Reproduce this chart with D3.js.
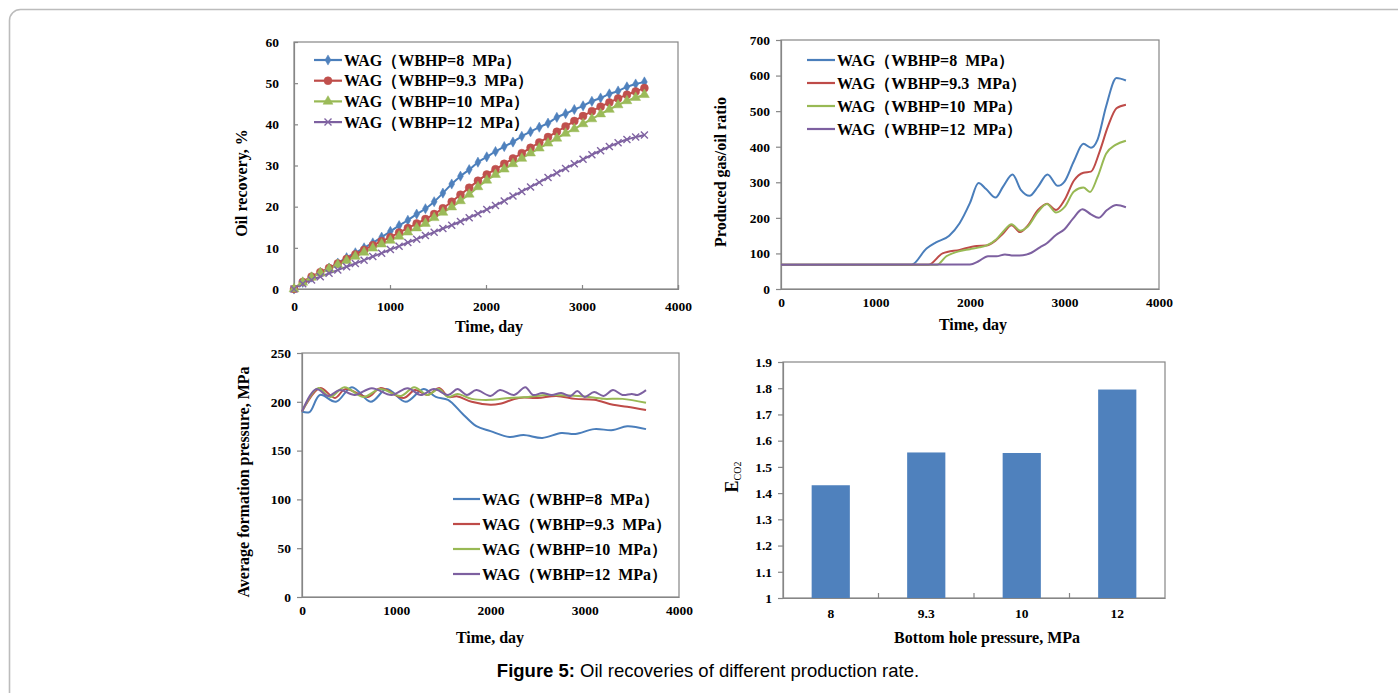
<!DOCTYPE html>
<html>
<head>
<meta charset="utf-8">
<script src="https://cdn.jsdelivr.net/npm/d3@7"></script>
<style>
html,body{margin:0;padding:0;background:#fff;}
svg{display:block;}
text{font-family:"Liberation Serif","Times New Roman",serif;font-weight:bold;fill:#000;}
</style>
</head>
<body>
<svg id="fig" width="1398" height="693"></svg>
<script>
// ---------------- DATA ----------------
const seriesNames = ["WAG（WBHP=8  MPa）","WAG（WBHP=9.3  MPa）","WAG（WBHP=10  MPa）","WAG（WBHP=12  MPa）"];
const lineColors = ["#4A7EBB","#BE4B48","#98B954","#7D60A0"];
const markColors = ["#4F81BD","#C0504D","#9BBB59","#8064A2"];

// Chart 1: oil recovery (%)
const recoveryDays = [0,91,183,274,365,456,548,639,730,821,913,1004,1095,1186,1278,1369,1460,1551,1643,1734,1825,1916,2008,2099,2190,2281,2373,2464,2555,2646,2738,2829,2920,3011,3103,3194,3285,3376,3468,3559,3650];
const recovery8  = [0,1.6,2.9,4.0,5.1,6.3,7.6,8.8,10.0,11.2,12.6,14.0,15.4,16.7,18.2,19.5,21.2,23.3,25.5,27.4,29.0,30.8,32.1,33.4,34.6,35.7,37.1,38.2,39.3,40.3,41.7,42.6,43.6,44.5,45.6,46.4,47.4,48.1,49.1,49.8,50.3];
const recovery93 = [0,1.7,3.0,4.1,5.1,6.2,7.3,8.4,9.5,10.6,11.6,12.6,13.7,14.8,15.9,17.0,18.2,19.6,21.2,22.9,24.6,26.3,27.8,29.1,30.4,31.7,33.0,34.3,35.6,36.9,38.2,39.5,40.8,42.0,43.2,44.3,45.3,46.3,47.2,48.0,48.8];
const recovery10 = [0,1.6,2.8,3.9,4.9,5.9,6.9,7.9,8.9,9.9,10.9,11.8,12.8,13.8,14.8,15.9,17.3,18.6,19.9,21.4,23.0,24.8,26.4,27.8,29.1,30.4,31.7,33.0,34.2,35.4,36.6,37.8,38.9,40.1,41.3,42.5,43.6,44.7,45.7,46.5,47.2];
const recovery12 = [0,1.3,2.2,3.0,3.8,4.6,5.4,6.2,7.0,7.9,8.7,9.6,10.4,11.3,12.1,13.0,13.8,14.7,15.5,16.4,17.3,18.3,19.3,20.3,21.4,22.6,23.7,24.8,25.9,27.1,28.2,29.3,30.4,31.5,32.6,33.6,34.6,35.5,36.3,36.9,37.4];

// Chart 2: produced gas/oil ratio, [day, value]
const gor8  = [[0,68],[1380,68],[1540,114],[1640,131],[1780,150],[1890,185],[2000,242],[2090,298],[2170,281],[2270,257],[2350,288],[2450,322],[2540,278],[2630,262],[2720,288],[2820,322],[2930,290],[3000,302],[3100,360],[3200,408],[3280,397],[3350,420],[3440,513],[3550,593],[3650,586]];
const gor93 = [[0,68],[1560,68],[1710,100],[1890,110],[2070,121],[2170,122],[2270,136],[2350,156],[2440,179],[2530,160],[2610,178],[2720,222],[2815,240],[2910,222],[3000,250],[3100,305],[3200,327],[3280,330],[3370,385],[3460,457],[3550,508],[3650,518]];
const gor10 = [[0,68],[1650,68],[1750,92],[1870,105],[2000,112],[2100,117],[2170,122],[2280,140],[2350,161],[2440,182],[2530,164],[2610,175],[2720,217],[2815,239],[2910,215],[3000,230],[3100,274],[3200,285],[3270,273],[3350,315],[3440,380],[3540,405],[3650,417]];
const gor12 = [[0,68],[2000,69],[2090,78],[2190,92],[2280,92],[2370,97],[2460,94],[2560,95],[2650,102],[2740,117],[2810,128],[2910,152],[3000,168],[3090,198],[3190,224],[3280,210],[3360,200],[3450,222],[3550,236],[3650,230]];

// Chart 3: average formation pressure (MPa), [day, value]
const pres8  = [[0,190],[80,189.5],[190,207],[360,200],[530,215],[730,200],[900,213],[1100,200],[1290,213],[1420,205],[1550,202],[1700,188],[1850,175],[2000,170],[2200,164],[2350,166],[2550,163],[2750,168],[2900,167],[3100,172],[3300,171],[3450,175],[3650,172]];
const pres93 = [[0,190],[190,214],[350,204],[460,213],[700,205],[830,214],[1080,204],[1200,212],[1330,207],[1460,214],[1550,205],[1650,205.5],[1800,200],[2000,197],[2100,198],[2300,204],[2500,204],[2700,206],[2900,203],[3100,202],[3300,197],[3450,195],[3650,191.5]];
const pres10 = [[0,190],[170,214],[300,205],[450,215],[650,205],[830,213],[1050,206],[1190,215],[1330,207],[1450,213],[1550,205],[1650,208],[1800,203],[2000,202],[2200,204],[2400,205],[2600,207],[2800,206.5],[3000,205.5],[3200,203],[3400,203],[3650,199]];
const pres12 = [[0,190],[150,213],[280,206],[400,212],[560,207],[740,214],[950,207],[1120,214],[1260,207],[1400,213],[1550,207],[1650,213],[1750,207],[1850,212],[2000,206],[2100,212],[2250,207],[2370,215],[2450,207],[2550,209],[2650,207],[2750,209],[2850,206],[2920,211],[3000,205],[3100,210],[3200,206],[3300,212],[3400,207],[3500,208],[3560,207],[3650,212]];

// Chart 4: E_CO2 vs bottom hole pressure
const bhpCategories = ["8","9.3","10","12"];
const eco2Values = [1.43,1.555,1.553,1.795];

// Tick labels
const timeTicks = [0,1000,2000,3000,4000];
const recoveryTicks = [0,10,20,30,40,50,60];
const gorTicks = [0,100,200,300,400,500,600,700];
const presTicks = [0,50,100,150,200,250];
const eco2Ticks = [1,1.1,1.2,1.3,1.4,1.5,1.6,1.7,1.8,1.9];

const caption = {bold:"Figure 5:", rest:" Oil recoveries of different production rate."};

// ---------------- DRAW ----------------
const svg = d3.select("#fig");
svg.append("rect").attr("width",1398).attr("height",693).attr("fill","#fff");
svg.append("rect").attr("x",9.5).attr("y",9.5).attr("width",1420).attr("height",720)
  .attr("rx",11).attr("fill","none").attr("stroke","#bcbcbc").attr("stroke-width",1.6);

const AXIS = "#868686";

function styleAxis(a){
  a.select(".domain").attr("stroke",AXIS).attr("stroke-width",1.2);
  a.selectAll(".tick line").attr("stroke",AXIS).attr("stroke-width",1.2);
  a.selectAll(".tick text").attr("font-size",13.5).attr("font-family",'"Liberation Serif",serif').attr("font-weight","bold").attr("fill","#000");
}

function frame(g, x, y, tickIn, xTicks, yTicks){
  const [x0,x1] = x.range(), [y0,y1] = y.range();
  g.append("rect").attr("x",x0).attr("y",y1).attr("width",x1-x0).attr("height",y0-y1)
    .attr("fill","none").attr("stroke",AXIS).attr("stroke-width",1.2);
  const ya = d3.axisLeft(y).tickValues(yTicks).tickSize(tickIn ? -4 : 5).tickPadding(tickIn ? 15 : 6).tickFormat(d3.format("d"));
  const yg = g.append("g").attr("transform",`translate(${x0},0)`).call(ya);
  const xa = d3.axisBottom(x).tickValues(xTicks).tickSize(tickIn ? -4 : 0).tickPadding(tickIn ? 12 : 8).tickFormat(d3.format("d"));
  const xg = g.append("g").attr("transform",`translate(0,${y0})`).call(xa);
  styleAxis(yg); styleAxis(xg);
}

function axisTitles(g, xt, xc, yc, yt){
  g.append("text").attr("x",xc[0]).attr("y",xc[1]).attr("text-anchor","middle").attr("font-size",16).text(xt);
  g.append("text").attr("transform",`translate(${yc[0]},${yc[1]}) rotate(-90)`).attr("text-anchor","middle")
    .attr("font-size",16).text(yt);
}

function markerPath(k){
  if(k===0) return d3.symbol(d3.symbolDiamond, 30)();
  if(k===1) return d3.symbol(d3.symbolCircle, 50)();
  if(k===2) return d3.symbol(d3.symbolTriangle, 42)();
  return "M-3.5,-3.5L3.5,3.5M-3.5,3.5L3.5,-3.5";
}
function drawMarker(g, k, cx, cy){
  const p = g.append("path").attr("d", markerPath(k)).attr("transform",`translate(${cx},${cy})`);
  if(k===3) p.attr("fill","none").attr("stroke",markColors[k]).attr("stroke-width",1.4);
  else p.attr("fill",markColors[k]).attr("stroke",markColors[k]).attr("stroke-width",0.5);
}

function legend(g, x0, x1, y0, dy, withMarkers){
  seriesNames.forEach((n,i)=>{
    const y = y0 + i*dy;
    g.append("line").attr("x1",x0).attr("x2",x1).attr("y1",y).attr("y2",y)
      .attr("stroke",lineColors[i]).attr("stroke-width",2.2);
    if(withMarkers) drawMarker(g, i, (x0+x1)/2, y);
    g.append("text").attr("x",x1+2).attr("y",y+5.5).attr("font-size",16)
      .attr("xml:space","preserve").style("white-space","pre").text(n);
  });
}

// ---- Chart 1: Oil recovery ----
{
  const g = svg.append("g");
  const x = d3.scaleLinear().domain([0,4000]).range([294,678]);
  const y = d3.scaleLinear().domain([0,60]).range([289,42]);
  frame(g, x, y, true, timeTicks, recoveryTicks);
  const sets = [recovery8, recovery93, recovery10, recovery12];
  const line = d3.line().x((d,i)=>x(recoveryDays[i])).y(d=>y(d)).curve(d3.curveMonotoneX);
  sets.forEach((s,k)=>{
    g.append("path").datum(s).attr("d",line).attr("fill","none").attr("stroke",lineColors[k]).attr("stroke-width",2);
  });
  sets.forEach((s,k)=>{
    s.forEach((v,i)=>drawMarker(g,k,x(recoveryDays[i]),y(v)));
  });
  legend(g, 314, 342, 60, 20.7, true);
  axisTitles(g, "Time, day", [489,332], [247,183], "Oil recovery, %");
}

// ---- Chart 2: GOR ----
{
  const g = svg.append("g");
  const x = d3.scaleLinear().domain([0,4000]).range([781,1159]);
  const y = d3.scaleLinear().domain([0,700]).range([289,40]);
  frame(g, x, y, false, timeTicks, gorTicks);
  const sets = [gor8, gor93, gor10, gor12];
  const line = d3.line().x(d=>x(d[0])).y(d=>y(d[1])).curve(d3.curveMonotoneX);
  sets.forEach((s,k)=>{
    g.append("path").datum(s).attr("d",line).attr("fill","none").attr("stroke",lineColors[k]).attr("stroke-width",2);
  });
  legend(g, 807, 835, 60, 23, false);
  axisTitles(g, "Time, day", [973,330], [726,172], "Produced gas/oil ratio");
}

// ---- Chart 3: Pressure ----
{
  const g = svg.append("g");
  const x = d3.scaleLinear().domain([0,4000]).range([302,679]);
  const y = d3.scaleLinear().domain([0,250]).range([597,353]);
  frame(g, x, y, false, timeTicks, presTicks);
  const sets = [pres8, pres93, pres10, pres12];
  const line = d3.line().x(d=>x(d[0])).y(d=>y(d[1])).curve(d3.curveCatmullRom.alpha(0.5));
  sets.forEach((s,k)=>{
    g.append("path").datum(s).attr("d",line).attr("fill","none").attr("stroke",lineColors[k]).attr("stroke-width",2);
  });
  legend(g, 453, 480, 499, 25, false);
  axisTitles(g, "Time, day", [490,643], [249,482], "Average formation pressure, MPa");
}

// ---- Chart 4: Bars ----
{
  const g = svg.append("g");
  const x = d3.scaleBand().domain(bhpCategories).range([783,1165]).paddingInner(0.6).paddingOuter(0.3);
  const y = d3.scaleLinear().domain([1,1.9]).range([598,362]);
  g.append("rect").attr("x",783).attr("y",362).attr("width",1165-783).attr("height",598-362)
    .attr("fill","none").attr("stroke",AXIS).attr("stroke-width",1.2);
  g.selectAll("rect.bar").data(eco2Values).enter().append("rect").attr("class","bar")
    .attr("x",(d,i)=>x(bhpCategories[i])).attr("width",x.bandwidth())
    .attr("y",d=>y(d)).attr("height",d=>598-y(d)).attr("fill","#4F81BD");
  const ya = d3.axisLeft(y).tickValues(eco2Ticks).tickSize(5).tickPadding(6).tickFormat(d=>String(+d.toFixed(1)));
  const yg = g.append("g").attr("transform","translate(783,0)").call(ya);
  const xa = d3.axisBottom(x).tickSize(0).tickPadding(10);
  const xg = g.append("g").attr("transform","translate(0,598)").call(xa);
  styleAxis(yg); styleAxis(xg);
  const step = x.step();
  bhpCategories.slice(1).forEach((c)=>{
    const sx = x(c) - (step - x.bandwidth())/2;
    g.append("line").attr("x1",sx).attr("x2",sx).attr("y1",598).attr("y2",593).attr("stroke",AXIS).attr("stroke-width",1.2);
  });
  g.append("text").attr("x",987).attr("y",643).attr("text-anchor","middle").attr("font-size",16).text("Bottom hole pressure, MPa");
  const t = g.append("text").attr("transform","translate(738,477) rotate(-90)").attr("text-anchor","middle").attr("font-size",18);
  t.append("tspan").text("E");
  t.append("tspan").attr("font-size",10).attr("font-weight","normal").attr("dy",3).text("CO2");
}

// ---- Caption ----
{
  const c = svg.append("text").attr("x",708).attr("y",677).attr("text-anchor","middle")
    .style("font-family",'"Liberation Sans",Arial,sans-serif').style("font-weight","normal").attr("font-size",18.5);
  c.append("tspan").style("font-weight","bold").text(caption.bold);
  c.append("tspan").text(caption.rest);
}
</script>
</body>
</html>
